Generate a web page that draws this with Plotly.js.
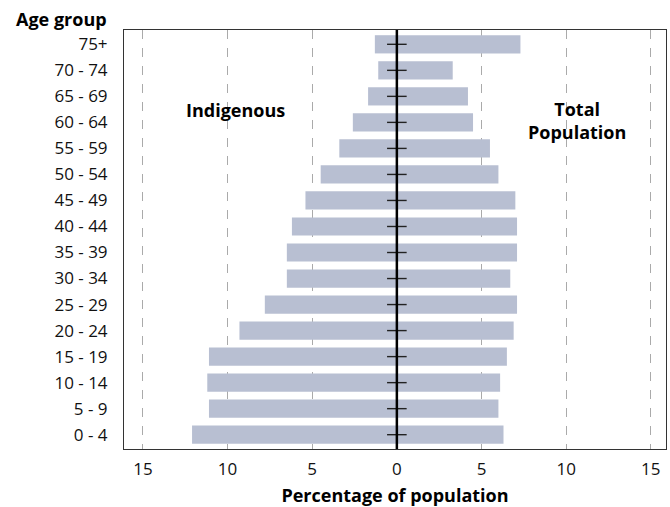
<!DOCTYPE html>
<html>
<head>
<meta charset="utf-8">
<script src="https://cdn.plot.ly/plotly-3.0.1.min.js"></script>
<style>html,body{margin:0;padding:0;background:#fff;}#chart{width:670px;height:507px;}</style>
</head>
<body>
<div id="chart"></div>
<script>
var ageGroups = ["0 - 4","5 - 9","10 - 14","15 - 19","20 - 24","25 - 29","30 - 34","35 - 39","40 - 44","45 - 49","50 - 54","55 - 59","60 - 64","65 - 69","70 - 74","75+"];
var indigenous = [12.1,11.1,11.2,11.1,9.3,7.8,6.5,6.5,6.2,5.4,4.5,3.4,2.6,1.7,1.1,1.3];
var totalPopulation = [6.3,6.0,6.1,6.5,6.9,7.1,6.7,7.1,7.1,7.0,6.0,5.5,4.5,4.2,3.3,7.3];
var xTickVals = [-15,-10,-5,0,5,10,15];
var xTickText = ["15","10","5","0","5","10","15"];

var barColor = "#b8bfd2";
var fontFamily = "'Open Sans', 'Noto Sans', sans-serif";

var traces = [
  {type:"bar", orientation:"h", y:ageGroups, x:indigenous.map(function(v){return -v;}),
   marker:{color:barColor}, hoverinfo:"skip", name:"Indigenous"},
  {type:"bar", orientation:"h", y:ageGroups, x:totalPopulation,
   marker:{color:barColor}, hoverinfo:"skip", name:"Total Population"},
  {type:"scatter", mode:"markers", y:ageGroups, x:ageGroups.map(function(){return 0;}),
   marker:{symbol:"line-ew", size:14, line:{width:1.4, color:"#222"}}, hoverinfo:"skip", cliponaxis:false}
];

var layout = {
  width:670, height:507,
  margin:{l:124, r:4, t:30, b:58},
  paper_bgcolor:"#fff", plot_bgcolor:"#fff",
  showlegend:false,
  barmode:"relative",
  bargap:0.3,
  font:{family:fontFamily, size:17, color:"#111"},
  xaxis:{
    range:[-16.12,15.9],
    tickvals:xTickVals, ticktext:xTickText,
    showgrid:true, gridcolor:"#aaaaaa", gridwidth:1, griddash:"dash",
    zeroline:false,
    showline:true, mirror:true, linecolor:"#333", linewidth:1,
    ticks:"", ticklabelstandoff:5,
    tickfont:{size:17, color:"#111"},
    title:{text:"Percentage of population", font:{size:18, weight:"bold", color:"#000"}, standoff:12}
  },
  yaxis:{
    type:"category",
    range:[-0.55,15.55],
    showgrid:false, zeroline:false,
    showline:true, mirror:true, linecolor:"#333", linewidth:1,
    ticks:"", ticklabelstandoff:12,
    tickfont:{size:17, color:"#111"}
  },
  shapes:[
    {type:"line", xref:"x", yref:"paper", x0:0, x1:0, y0:0, y1:1, layer:"above",
     line:{color:"#000", width:2.5}}
  ],
  annotations:[
    {text:"Age group", xref:"paper", yref:"paper", x:-0.0277, y:1.027, xanchor:"right", yanchor:"middle",
     showarrow:false, font:{size:18, weight:"bold", color:"#000"}},
    {text:"Indigenous", xref:"paper", yref:"paper", x:(235-124)/542, y:1-(110-30)/419, xanchor:"center", yanchor:"middle",
     showarrow:false, font:{size:18, weight:"bold", color:"#000"}},
    {text:"Total<br>Population", xref:"paper", yref:"paper", x:(577-124)/542, y:1-(121-30)/419, xanchor:"center", yanchor:"middle",
     showarrow:false, font:{size:18, weight:"bold", color:"#000"}}
  ]
};

Plotly.newPlot("chart", traces, layout, {staticPlot:true, displayModeBar:false});
</script>
</body>
</html>
